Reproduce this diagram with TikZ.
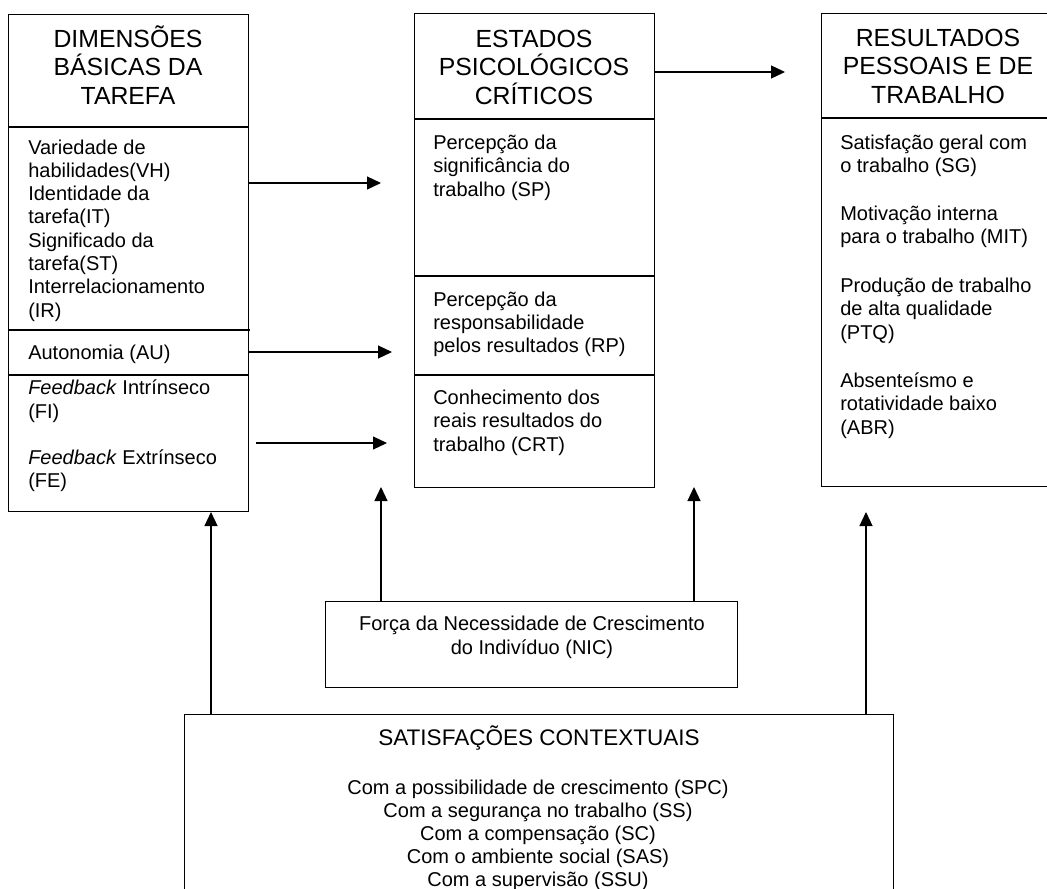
\documentclass[tikz,border=0pt]{standalone}
\usepackage{fontspec}
\setmainfont{Liberation Sans}
\usetikzlibrary{arrows.meta}
\tikzset{
  boxnode/.style={draw, line width=0.9pt, inner sep=0pt, anchor=north west},
  rulel/.style={line width=0.9pt},
  hdr/.style={font=\fontsize{18.6}{21.5}\selectfont, inner sep=0pt, anchor=base},
  body/.style={font=\fontsize{15}{17.6}\selectfont, inner sep=0pt, anchor=base west},
  bodyc/.style={font=\fontsize{15}{17.6}\selectfont, inner sep=0pt, anchor=base},
  subhdr/.style={font=\fontsize{16.9}{20}\selectfont, inner sep=0pt, anchor=base},
  arr/.style={line width=0.9pt, -{Triangle[length=10.5pt,width=9.75pt]}}
}
\begin{document}
\begin{tikzpicture}[x=0.75pt,y=-0.75pt]
\useasboundingbox (0,0) rectangle (1047,889);
\clip (0,0) rectangle (1047,889);
\fill[white] (0,0) rectangle (1047,889);

% ---------- boxes ----------
\node[boxnode, minimum width=180pt, minimum height=372.75pt] (L) at (8,14) {};
\node[boxnode, minimum width=180pt, minimum height=355.5pt] (M) at (414,13) {};
\node[boxnode, minimum width=177.75pt, minimum height=354.75pt] (R) at (821,13) {};
\node[boxnode, minimum width=309pt, minimum height=64.5pt] (N) at (325,601) {};
\node[boxnode, minimum width=531.75pt, minimum height=184.5pt] (B) at (184,714) {};

% dividers
\draw[rulel] (8,127) -- (248,127);
\draw[line width=1.1pt] (8,330) -- (250,330);
\draw[rulel] (8,375) -- (248,375);
\draw[rulel] (414,119) -- (654,119);
\draw[rulel] (414,276) -- (654,276);
\draw[rulel] (414,375) -- (654,375);
\draw[rulel] (821,118) -- (1058,118);

% ---------- headers ----------
\foreach \t [count=\i from 0] in {DIMENSÕES,BÁSICAS DA,TAREFA}
  \node[hdr] (lh\i) at (128,{47+28.5*\i}) {\t};
\foreach \t [count=\i from 0] in {ESTADOS,PSICOLÓGICOS,CRÍTICOS}
  \node[hdr] (mh\i) at (534,{47+28.5*\i}) {\t};
\foreach \t [count=\i from 0] in {RESULTADOS,PESSOAIS E DE,TRABALHO}
  \node[hdr] (rh\i) at (938,{46+28.5*\i}) {\t};

% ---------- left body ----------
\foreach \t [count=\i from 0] in {Variedade de,habilidades(VH),Identidade da,tarefa(IT),Significado da,tarefa(ST),Interrelacionamento,(IR)}
  \node[body] (lv\i) at (28,{154+23.3*\i}) {\t};
\node[body] (lau) at (28,359) {Autonomia (AU)};
\node[body] (lf1) at (28,394) {\textit{Feedback} Intrínseco};
\node[body] (lf2) at (28,418) {(FI)};
\node[body] (lf3) at (28,464) {\textit{Feedback} Extrínseco};
\node[body] (lf4) at (28,487) {(FE)};

% ---------- middle body ----------
\foreach \t [count=\i from 0] in {Percepção da,significância do,trabalho (SP)}
  \node[body] (ma\i) at (433,{149+23.5*\i}) {\t};
\foreach \t [count=\i from 0] in {Percepção da,responsabilidade,pelos resultados (RP)}
  \node[body] (mb\i) at (433,{306+23.2*\i}) {\t};
\foreach \t [count=\i from 0] in {Conhecimento dos,reais resultados do,trabalho (CRT)}
  \node[body] (mc\i) at (433,{404+23.5*\i}) {\t};

% ---------- right body ----------
\foreach \t [count=\i from 0] in {Satisfação geral com,o trabalho (SG)}
  \node[body] (ra\i) at (840,{149+23.7*\i}) {\t};
\foreach \t [count=\i from 0] in {Motivação interna,para o trabalho (MIT)}
  \node[body] (rb\i) at (840,{220+23.7*\i}) {\t};
\foreach \t [count=\i from 0] in {Produção de trabalho,de alta qualidade,(PTQ)}
  \node[body] (rc\i) at (840,{292+23.5*\i}) {\t};
\foreach \t [count=\i from 0] in {Absenteísmo e,rotatividade baixo,(ABR)}
  \node[body] (rd\i) at (840,{387+23.5*\i}) {\t};

% ---------- NIC ----------
\node[bodyc] (n0) at (532,630) {Força da Necessidade de Crescimento};
\node[bodyc] (n1) at (532,654) {do Indivíduo (NIC)};

% ---------- bottom ----------
\node[subhdr] (bh) at (539,745) {SATISFAÇÕES CONTEXTUAIS};
\foreach \t [count=\i from 0] in {Com a possibilidade de crescimento (SPC),Com a segurança no trabalho (SS),Com a compensação (SC),Com o ambiente social (SAS),Com a supervisão (SSU)}
  \node[bodyc] (bc\i) at (538,{794+23*\i}) {\t};

% ---------- arrows ----------
\coordinate (a0e) at (785,72);
\coordinate (a1e) at (381,183);
\coordinate (a2e) at (392,352);
\coordinate (a3s) at (256,443);
\coordinate (a3e) at (387,443);
\draw[arr] (M.east |- a0e) -- (a0e);
\draw[arr] (L.east |- a1e) -- (a1e);
\draw[arr] (L.east |- a2e) -- (a2e);
\draw[arr] (a3s) -- (a3e);

\coordinate (v1e) at (211,512);
\coordinate (v2e) at (381,487);
\coordinate (v3e) at (694,487);
\coordinate (v4e) at (866,512);
\draw[arr] (B.north -| v1e) -- (v1e);
\draw[arr] (N.north -| v2e) -- (v2e);
\draw[arr] (N.north -| v3e) -- (v3e);
\draw[arr] (B.north -| v4e) -- (v4e);
\end{tikzpicture}
\end{document}
